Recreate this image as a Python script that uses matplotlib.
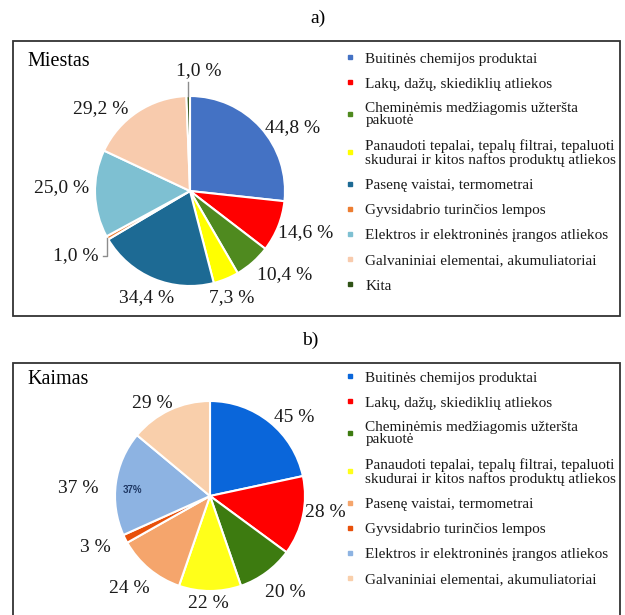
import numpy as np
import matplotlib.pyplot as plt
from matplotlib.patches import Rectangle
from matplotlib.lines import Line2D

plt.rcParams['font.family'] = ['Liberation Serif', 'DejaVu Serif']

W, H = 625, 615

# --- data ---
categories_a = [
    'Buitinės chemijos produktai',
    'Lakų, dažų, skiediklių atliekos',
    'Cheminėmis medžiagomis užteršta\npakuotė',
    'Panaudoti tepalai, tepalų filtrai, tepaluoti\nskudurai ir kitos naftos produktų atliekos',
    'Pasenę vaistai, termometrai',
    'Gyvsidabrio turinčios lempos',
    'Elektros ir elektroninės įrangos atliekos',
    'Galvaniniai elementai, akumuliatoriai',
    'Kita',
]
values_a = [44.8, 14.6, 10.4, 7.3, 34.4, 1.0, 25.0, 29.2, 1.0]
colors_a = ['#4472C4', '#FF0000', '#4F8A1F', '#FFFF00', '#1D6A94',
            '#ED7D31', '#7EC0D2', '#F8CBAD', '#2F5216']

categories_b = categories_a[:8]
values_b = [45, 28, 20, 22, 24, 3, 37, 29]
colors_b = ['#0A66DA', '#FF0000', '#3D7B10', '#FFFF1A', '#F5A56C',
            '#E8500A', '#8DB3E2', '#F9CFAB']

labels_a = [f'{v:.1f}'.replace('.', ',') + ' %' for v in values_a]
labels_b = [f'{v:.0f} %' for v in values_b]


def fx(x):
    return x / W


def fy(y):
    return 1 - y / H


def draw_pie(fig, cx, cy, R, values, colors, labels, dist, nudge, leaders=()):
    k = 1.6
    ax = fig.add_axes([fx(cx - k * R), fy(cy + k * R), 2 * k * R / W, 2 * k * R / H])
    wedges, _ = ax.pie(values, colors=colors, startangle=90, counterclock=False,
                       wedgeprops=dict(edgecolor='white', linewidth=1.5))
    for i, w in enumerate(wedges):
        mid = np.deg2rad((w.theta1 + w.theta2) / 2)
        ang = mid + np.deg2rad(nudge[i])
        lx, ly = dist[i] * np.cos(ang), dist[i] * np.sin(ang)
        ax.text(lx, ly, labels[i], ha='center', va='center', fontsize=14, color='#1a1a1a')
        if i in leaders:
            ex, ey = np.cos(mid), np.sin(mid)
            if leaders[i] == 'down':
                ax.plot([ex, ex, lx + 0.28], [ey, ly, ly], color='#8c8c8c', lw=1)
            else:
                ax.plot([ex, ex], [ey, ly - 0.12], color='#8c8c8c', lw=1)
    ax.set_xlim(-k, k)
    ax.set_ylim(-k, k)
    ax.set_aspect('equal')
    ax.axis('off')
    return ax, wedges


def draw_legend(fig, x, y, cats, colors, spacing):
    handles = [Line2D([], [], marker='s', linestyle='none', markersize=3.4,
                      markerfacecolor=c, markeredgecolor=c) for c in colors]
    leg = fig.legend(handles, cats, loc='upper left', bbox_to_anchor=(fx(x), fy(y)),
                     frameon=False, fontsize=11, handlelength=0.4, handletextpad=0.8,
                     labelspacing=spacing, borderaxespad=0, borderpad=0)
    for t in leg.get_texts():
        t.set_color('#1a1a1a')
        if t.get_text().startswith('Chem'):
            t.set_linespacing(0.9)
        elif '\n' in t.get_text():
            t.set_linespacing(1.05)
    return leg


fig = plt.figure(figsize=(W / 100, H / 100), dpi=100)

# frames
fig.patches.append(Rectangle((fx(13), fy(316)), (620 - 13) / W, (316 - 41) / H,
                             transform=fig.transFigure, fill=False, lw=1.3, edgecolor='#333333'))
fig.patches.append(Rectangle((fx(13), fy(640)), (620 - 13) / W, (640 - 363) / H,
                             transform=fig.transFigure, fill=False, lw=1.3, edgecolor='#333333'))

fig.text(fx(318), fy(18), 'a)', ha='center', va='center', fontsize=14)
fig.text(fx(310), fy(340), 'b)', ha='center', va='center', fontsize=14)
fig.text(fx(27), fy(61), 'Miestas', ha='left', va='center', fontsize=14.5)
fig.text(fx(27), fy(380), 'Kaimas', ha='left', va='center', fontsize=14.5)

# panel a
dist_a = [1.27, 1.29, 1.33, 1.20, 1.21, 1.38, 1.35, 1.28, 1.27]
nudge_a = [-10, 2, 7, -1, 0, 0, -3.4, 14, -5]
draw_pie(fig, 190, 191, 95, values_a, colors_a, labels_a, dist_a, nudge_a,
         leaders={5: 'down', 8: 'up'})
draw_legend(fig, 347, 52, categories_a, colors_a, 0.75)

# panel b
dist_b = [1.21, 1.23, 1.29, 1.13, 1.29, 1.32, 1.39, 1.15]
nudge_b = [-8, 4, 1.5, -1, -1.4, -2.6, 4.5, 7]
ax_b, wedges_b = draw_pie(fig, 210, 496, 95, values_b, colors_b, labels_b, dist_b, nudge_b)
ax_b.text(-0.82, 0.06, '37%', ha='center', va='center', fontsize=7,
          fontweight='bold', color='#1F3864', family='Liberation Sans')
draw_legend(fig, 347, 371, categories_b, colors_b, 0.75)

fig.savefig('out.png', dpi=100)
